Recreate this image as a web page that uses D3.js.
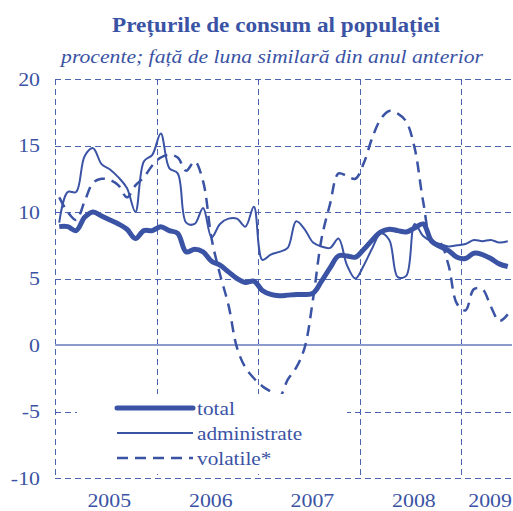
<!DOCTYPE html>
<html>
<head>
<meta charset="utf-8">
<script src="https://cdn.jsdelivr.net/npm/d3@7"></script>
<style>
  body { margin: 0; background: #fff; }
  svg { display: block; font-family: "Liberation Serif", "Times New Roman", serif; }
</style>
</head>
<body>
<div id="chart"></div>
<script>
// monthly data, Jan 2005 .. Jun 2009
const years = ["2005", "2006", "2007", "2008", "2009"];

const total = [
  8.9, 8.9, 8.6, 9.6, 10.0, 9.7, 9.4, 9.1, 8.7, 8.0, 8.6, 8.6,
  8.9, 8.6, 8.4, 7.0, 7.2, 7.0, 6.3, 6.0, 5.5, 5.0, 4.7, 4.8,
  4.1, 3.8, 3.7, 3.75, 3.8, 3.8, 3.9, 4.8, 5.8, 6.7, 6.7, 6.6,
  7.2, 7.9, 8.5, 8.7, 8.6, 8.5, 8.8, 9.1, 7.8, 7.4, 7.1, 6.6,
  6.5, 6.9, 6.8, 6.5, 6.1, 5.9
];

const administrate = [
  9.2, 11.5, 11.5, 14.2, 14.8, 13.6, 13.2, 12.6, 11.8, 10.0, 13.8, 14.3,
  15.9, 13.3, 12.9, 9.2, 9.1, 10.3, 8.1, 9.1, 9.5, 9.5, 8.9, 10.4,
  6.4, 6.8, 7.0, 7.3, 9.3, 8.7, 7.7, 7.4, 7.3, 8.0, 6.0, 5.0,
  6.0, 7.3, 8.4, 7.9, 5.1, 5.2, 9.1, 8.2, 7.8, 7.6, 7.4, 7.5,
  7.6, 7.9, 7.8, 7.9, 7.7, 7.8
];

const volatile = [
  11.1, 10.0, 9.4, 10.8, 12.2, 12.5, 12.4, 12.0, 11.1, 12.0, 12.6, 13.5,
  14.1, 14.3, 14.1, 13.1, 13.8, 12.3, 8.0, 5.3, 3.0, -0.2, -1.7, -2.5,
  -3.1, -3.5, -3.9, -2.6, -1.7, -0.2, 3.5, 8.0, 10.6, 12.9, 12.7, 12.5,
  13.7, 15.6, 17.0, 17.6, 17.4, 16.8, 14.8, 10.8, 7.9, 7.7, 6.0, 3.1,
  2.6, 4.2, 4.2, 2.9, 1.8, 2.3
];

const yTicks = [-10, -5, 0, 5, 10, 15, 20];
const legendLabels = ["total", "administrate", "volatile*"];

const width = 513;
const height = 511;
const blue = "#3a53a4";
const gridColor = "#4d64b0";
const months = total.length;
const stretch = 1.15; // the original text is a bit wider than it is tall

const svg = d3.select("#chart")
  .append("svg")
  .attr("width", width)
  .attr("height", height);

const x = d3.scaleLinear()
  .domain([0, 54])
  .range([55, 512]);

const y = d3.scaleLinear()
  .domain([-10, 20])
  .range([478, 79]);

function placed(tx, ty, sx) {
  return `translate(${tx},${ty}) scale(${sx || stretch},1)`;
}

// title
svg.append("text")
  .attr("transform", placed(276, 32, 1.16))
  .attr("text-anchor", "middle")
  .style("font-size", "20px")
  .style("font-weight", "bold")
  .style("fill", blue)
  .text("Prețurile de consum al populației");

svg.append("text")
  .attr("transform", placed(272, 63, 1.14))
  .attr("text-anchor", "middle")
  .style("font-size", "19px")
  .style("font-style", "italic")
  .style("fill", blue)
  .text("procente; față de luna similară din anul anterior");

// horizontal grid
svg.append("g")
  .selectAll("line")
  .data(yTicks.filter(d => d !== 0))
  .enter()
  .append("line")
  .attr("x1", x(0))
  .attr("x2", x(54))
  .attr("y1", d => Math.round(y(d)) + 0.5)
  .attr("y2", d => Math.round(y(d)) + 0.5)
  .style("stroke", gridColor)
  .style("stroke-width", 1)
  .style("stroke-dasharray", "6,4");

// vertical grid at year starts
svg.append("g")
  .selectAll("line")
  .data([0, 12, 24, 36, 48])
  .enter()
  .append("line")
  .attr("x1", d => Math.round(x(d)) + 0.5)
  .attr("x2", d => Math.round(x(d)) + 0.5)
  .attr("y1", y(20))
  .attr("y2", y(-10))
  .style("stroke", gridColor)
  .style("stroke-width", 1)
  .style("stroke-dasharray", "6,4");

// zero line
svg.append("line")
  .attr("x1", x(0))
  .attr("x2", x(54))
  .attr("y1", y(0))
  .attr("y2", y(0))
  .style("stroke", "#8c9bcd")
  .style("stroke-width", 2);

// y labels
svg.append("g")
  .selectAll("text")
  .data(yTicks)
  .enter()
  .append("text")
  .attr("transform", d => placed(40, y(d)))
  .attr("dy", "0.35em")
  .attr("text-anchor", "end")
  .style("font-size", "19px")
  .style("fill", blue)
  .text(d => d);

// year labels
svg.append("g")
  .selectAll("text")
  .data(years)
  .enter()
  .append("text")
  .attr("transform", (d, i) =>
    placed(x(Math.min(i * 12 + 6, i * 12 + (months - i * 12) / 2)) + 3.5, 507))
  .attr("text-anchor", "middle")
  .style("font-size", "19px")
  .style("fill", blue)
  .text(d => d);

// lines
const line = d3.line()
  .x((d, i) => x(i + 0.5))
  .y(d => y(d))
  .curve(d3.curveCatmullRom.alpha(0.5));

const series = [
  { values: volatile, width: 2.5, dash: "11,7" },
  { values: administrate, width: 2, dash: null },
  { values: total, width: 5, dash: null }
];

svg.append("g")
  .selectAll("path")
  .data(series)
  .enter()
  .append("path")
  .attr("d", d => line(d.values))
  .style("fill", "none")
  .style("stroke", blue)
  .style("stroke-width", d => d.width)
  .style("stroke-linejoin", "round")
  .style("stroke-dasharray", d => d.dash);

// legend
const legend = svg.append("g");

legend.append("rect")
  .attr("x", 77)
  .attr("y", 394)
  .attr("width", 270)
  .attr("height", 80)
  .style("fill", "#fff");

const legendStyles = [
  { width: 5, dash: null },
  { width: 2, dash: null },
  { width: 2.5, dash: "11,7" }
];

legendLabels.forEach((label, i) => {
  const ly = 408 + i * 25;
  legend.append("line")
    .attr("x1", 117)
    .attr("x2", 193)
    .attr("y1", ly)
    .attr("y2", ly)
    .style("stroke", blue)
    .style("stroke-width", legendStyles[i].width)
    .style("stroke-linecap", i === 0 ? "round" : "butt")
    .style("stroke-dasharray", legendStyles[i].dash);

  legend.append("text")
    .attr("transform", placed(197, ly, 1.12))
    .attr("dy", "0.35em")
    .style("font-size", "19px")
    .style("fill", blue)
    .text(label);
});
</script>
</body>
</html>
